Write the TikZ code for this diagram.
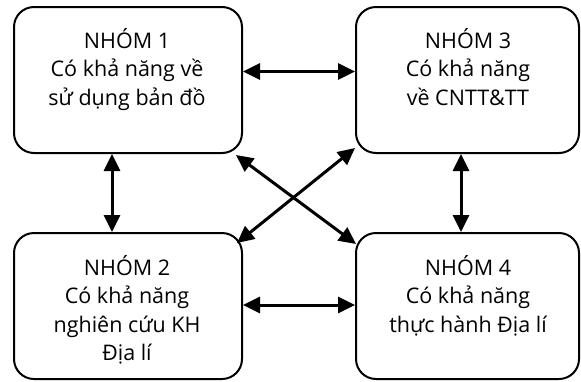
\documentclass[tikz,border=0pt]{standalone}
\usepackage{fontspec}
\setmainfont{Open Sans}
\usetikzlibrary{arrows.meta}
\tikzset{
  grpbox/.style={draw, line width=2pt, rounded corners=20pt, minimum width=#1, minimum height=146pt, inner sep=0pt},
  grptext/.style={align=center, anchor=base, inner sep=0pt, font=\fontsize{21.5}{28.5}\selectfont},
  link/.style={line width=3pt, {Triangle[length=17pt,width=16pt]}-{Triangle[length=17pt,width=16pt]}}
}
\begin{document}
\begin{tikzpicture}[x=1pt,y=-1pt]
\useasboundingbox (0,0) rectangle (581,381);
\node[grpbox=228pt] (b1) at (128,80) {};
\node[grpbox=223pt] (b3) at (467.5,80) {};
\node[grpbox=228pt] (b2) at (128,306) {};
\node[grpbox=223pt] (b4) at (467.5,306) {};
\node[grptext] (t1) at (127,105) {NHÓM 1\\Có khả năng về\\sử dụng bản đồ};
\node[grptext] (t3) at (468,105) {NHÓM 3\\Có khả năng\\về CNTT\&TT};
\node[grptext] (t2) at (127,360.5) {NHÓM 2\\Có khả năng\\nghiên cứu KH\\Địa lí};
\node[grptext] (t4) at (468,332) {NHÓM 4\\Có khả năng\\thực hành Địa lí};
\draw[link] ([yshift=8.5pt]b1.east) -- ([yshift=8.5pt]b3.west);
\draw[link] ([yshift=1pt]b2.east) -- ([yshift=1pt]b4.west);
\draw[link] (b1.south -| 112,0) -- (b2.north -| 112,0);
\draw[link] (b3.south -| 461,0) -- (b4.north -| 461,0);
\draw[link] ([xshift=-7pt,yshift=-1pt]b1.south east) -- ([xshift=1pt,yshift=-12pt]b4.north west);
\draw[link] ([xshift=-6pt,yshift=-11pt]b2.north east) -- ([yshift=6pt]b3.south west);
\end{tikzpicture}
\end{document}
